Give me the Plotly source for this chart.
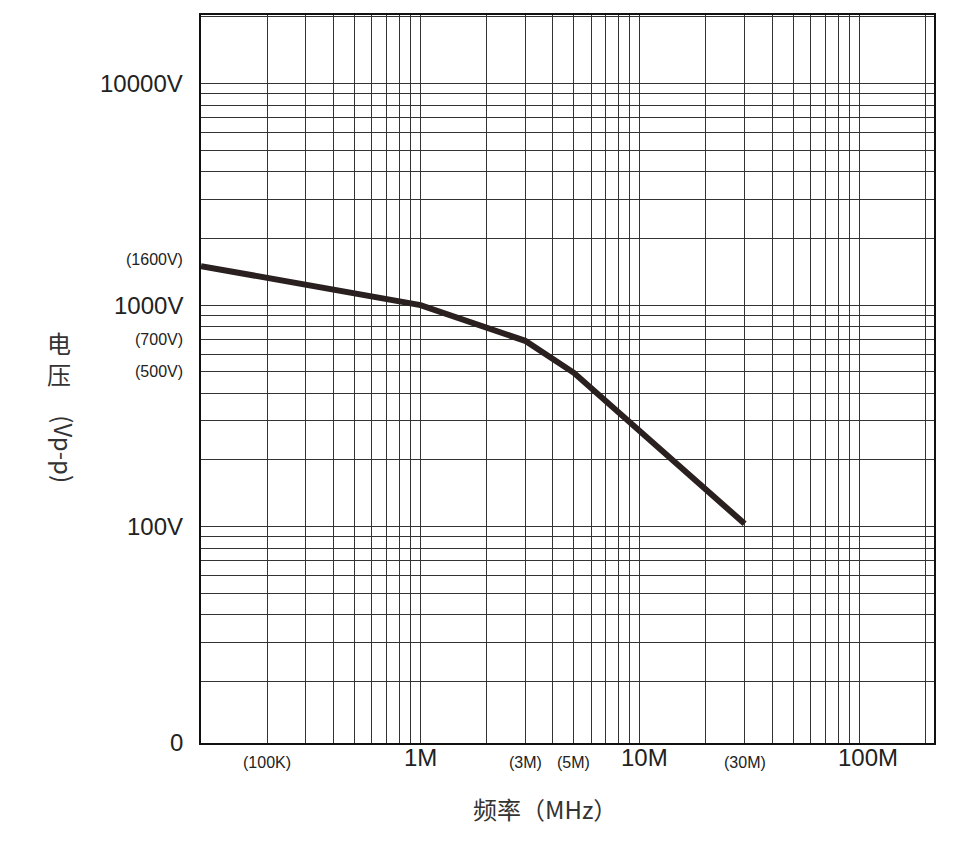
import numpy as np
import plotly.graph_objects as go

# curve
freq_hz = [1.0e5, 1.0e6, 3.0e6, 5.0e6, 3.0e7]
volts = [1500, 1000, 690, 495, 103]

# x labels (positions in Hz as drawn)
x_label_pos = [2.0e5, 1.0e6, 3.0e6, 5.0e6, 1.05e7, 3.0e7, 1.1e8]
x_label_text = ["(100K)", "1M", "(3M)", "(5M)", "10M", "(30M)", "100M"]
x_label_big = [False, True, False, False, True, False, True]

# y labels
y_label_pos = [10000, 1600, 1000, 700, 500, 100, 10.6]
y_label_text = ["10000V", "(1600V)", "1000V", "(700V)", "(500V)", "100V", "0"]
y_label_big = [True, False, True, False, False, True, True]

x_grid = [m * 10 ** d for d in range(5, 9) for m in range(1, 10)]
y_grid = [m * 10 ** d for d in range(1, 5) for m in range(1, 10)]

fig = go.Figure()
fig.add_trace(go.Scatter(
    x=freq_hz, y=volts, mode="lines",
    line=dict(color="#2a2020", width=6),
    showlegend=False, hoverinfo="skip",
))

fig.update_xaxes(
    type="log", range=[5.0, 8.34],
    tickvals=x_grid, showticklabels=False, ticks="",
    showgrid=True, gridcolor="#333333", gridwidth=1,
    showline=True, linecolor="#111111", linewidth=1.5, mirror=True,
    zeroline=False,
)
fig.update_yaxes(
    type="log", range=[1.023, 4.31],
    tickvals=y_grid, showticklabels=False, ticks="",
    showgrid=True, gridcolor="#333333", gridwidth=1,
    showline=True, linecolor="#111111", linewidth=1.5, mirror=True,
    zeroline=False,
)

font = "Liberation Sans, Arial, sans-serif"
for pos, txt, big in zip(x_label_pos, x_label_text, x_label_big):
    fig.add_annotation(
        x=np.log10(pos), y=0, xref="x", yref="paper", yshift=-30,
        text=txt, showarrow=False,
        font=dict(size=24 if big else 16, color="#222222", family=font),
    )
for pos, txt, big in zip(y_label_pos, y_label_text, y_label_big):
    fig.add_annotation(
        x=0, y=np.log10(pos), xref="paper", yref="y", xshift=-16,
        xanchor="right", text=txt, showarrow=False,
        font=dict(size=24 if big else 16, color="#222222", family=font),
    )

fig.add_annotation(
    x=(545 - 201) / 733, y=-(828 - 743) / 730, xref="paper", yref="paper",
    text="频率（MHz）", showarrow=False,
    font=dict(size=24, color="#333333", family="Noto Sans CJK SC"),
)
fig.add_annotation(
    x=-(201 - 45) / 733, y=(743 - 357) / 730, xref="paper", yref="paper",
    text="电<br>压", showarrow=False,
    font=dict(size=24, color="#333333", family="Noto Sans CJK SC"),
)
fig.add_annotation(
    x=-(201 - 45) / 733, y=(743 - 448) / 730, xref="paper", yref="paper",
    text="(Vp-p)", showarrow=False, textangle=90,
    font=dict(size=24, color="#333333", family="Noto Sans CJK SC"),
)

fig.update_layout(
    width=970, height=867,
    margin=dict(l=193, r=44, t=5, b=132),
    paper_bgcolor="white", plot_bgcolor="white",
)

fig.write_html("out.html")
